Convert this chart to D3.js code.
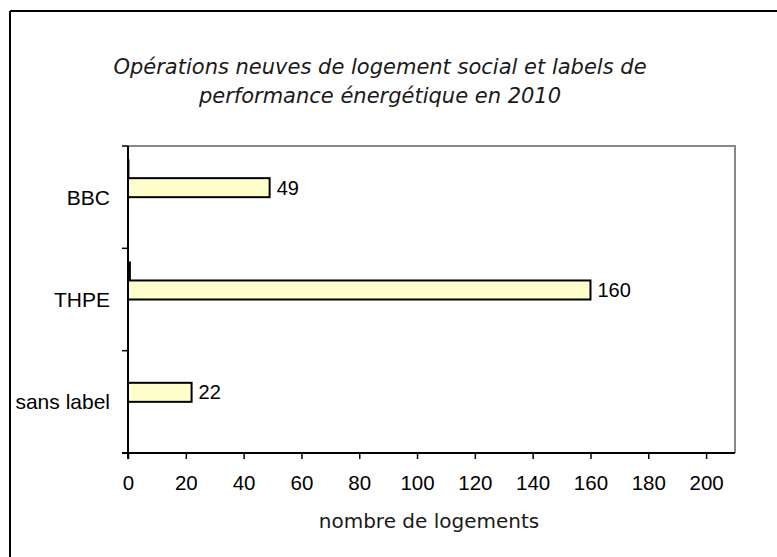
<!DOCTYPE html>
<html>
<head>
  <meta charset="utf-8">
  <title>logement social 2010</title>
  <script src="https://cdnjs.cloudflare.com/ajax/libs/d3/7.8.5/d3.min.js"></script>
</head>
<style>
  body { margin: 0; background: #fff; }
  svg { display: block; }
  text { font-family: "Liberation Sans", Arial, sans-serif; fill: #000; }
  .titre { font-family: "DejaVu Sans", sans-serif; font-style: italic; font-size: 21px; fill: #1a1a1a; }
  .axe-titre { font-family: "DejaVu Sans", sans-serif; font-size: 20px; fill: #1a1a1a; }
</style>
<body>
<svg id="svg" width="777" height="557"></svg>
<script>
  const categories = ['BBC', 'THPE', 'sans label'];
  const logements = [49, 160, 22];
  const serie2 = [0.5, 1, 0];   // petites barres noires au-dessus
  const xTicks = [0, 20, 40, 60, 80, 100, 120, 140, 160, 180, 200];

  const svg = d3.select('svg');
  const plotL = 128, plotR = 735, plotT = 146, plotB = 453;

  // cadre extérieur (seulement haut et gauche visibles)
  svg.append('line').attr('x1', 10).attr('x2', 777).attr('y1', 11).attr('y2', 11)
    .attr('stroke', '#000').attr('stroke-width', 2);
  svg.append('line').attr('x1', 10).attr('x2', 10).attr('y1', 11).attr('y2', 557)
    .attr('stroke', '#000').attr('stroke-width', 2);

  const xScale = d3.scaleLinear().domain([0, 210]).range([plotL, plotR]);
  const yScale = d3.scaleBand().domain(categories).range([plotT, plotB]);
  // 4 emplacements de série par catégorie, seuls 2 sont utilisés
  const slot = d3.scaleBand().domain([0, 1, 2, 3]).range([0, yScale.bandwidth()]).paddingOuter(0.69);

  // bord haut et droit du graphique
  svg.append('path')
    .attr('d', `M${plotL},${plotT}H${plotR}V${plotB}`)
    .attr('fill', 'none').attr('stroke', '#888').attr('stroke-width', 2);

  const rows = categories.map((c, i) => ({ cat: c, v: logements[i], v2: serie2[i] }));

  svg.selectAll('rect.s2').data(rows.filter(d => d.v2 > 0)).enter()
    .append('rect').attr('class', 's2')
    .attr('x', xScale(0))
    .attr('y', d => yScale(d.cat) + slot(0))
    .attr('width', d => xScale(d.v2) - xScale(0))
    .attr('height', slot.bandwidth())
    .attr('fill', '#000');

  svg.selectAll('rect.s1').data(rows).enter()
    .append('rect').attr('class', 's1')
    .attr('x', xScale(0))
    .attr('y', d => yScale(d.cat) + slot(1))
    .attr('width', d => xScale(d.v) - xScale(0))
    .attr('height', slot.bandwidth())
    .attr('fill', '#ffffcc').attr('stroke', '#000').attr('stroke-width', 2);

  svg.selectAll('text.val').data(rows).enter()
    .append('text').attr('class', 'val')
    .attr('x', d => xScale(d.v) + 7)
    .attr('y', d => yScale(d.cat) + slot(1) + slot.bandwidth() / 2)
    .attr('dy', '0.35em')
    .style('font-size', '20px')
    .text(d => d.v);

  // axe x
  const xAxis = d3.axisBottom(xScale).tickValues(xTicks).tickSize(6).tickPadding(16);
  const gx = svg.append('g').attr('transform', `translate(0,${plotB})`).call(xAxis);
  gx.select('.domain').attr('d', `M${plotL - 6},0H${plotR}`).attr('stroke-width', 2);
  gx.selectAll('.tick line').attr('stroke-width', 1.5);
  gx.selectAll('text').style('font-size', '20.5px').style('font-family', '"Liberation Sans", Arial, sans-serif');

  // axe y : graduations entre catégories
  const yBounds = categories.map(c => yScale(c)).concat([plotB]);
  svg.append('line').attr('x1', plotL).attr('x2', plotL).attr('y1', plotT).attr('y2', plotB + 6)
    .attr('stroke', '#000').attr('stroke-width', 2);
  svg.selectAll('line.ytick').data(yBounds).enter()
    .append('line').attr('class', 'ytick')
    .attr('x1', plotL - 6).attr('x2', plotL).attr('y1', d => d).attr('y2', d => d)
    .attr('stroke', '#000').attr('stroke-width', 1.5);
  svg.selectAll('text.cat').data(categories).enter()
    .append('text').attr('class', 'cat')
    .attr('x', 110)
    .attr('y', d => yScale(d) + yScale.bandwidth() / 2)
    .attr('dy', '0.35em')
    .attr('text-anchor', 'end')
    .style('font-size', '21px')
    .text(d => d);

  svg.append('text').attr('class', 'axe-titre')
    .attr('x', 429).attr('y', 521).attr('dy', '0.35em').attr('text-anchor', 'middle')
    .text('nombre de logements');

  const titre = svg.append('text').attr('class', 'titre').attr('text-anchor', 'middle');
  titre.append('tspan').attr('x', 380).attr('y', 67).attr('dy', '0.35em')
    .text('Opérations neuves de logement social et labels de');
  titre.append('tspan').attr('x', 380).attr('y', 96).attr('dy', '0.35em')
    .text('performance énergétique en 2010');
</script>
</body>
</html>
